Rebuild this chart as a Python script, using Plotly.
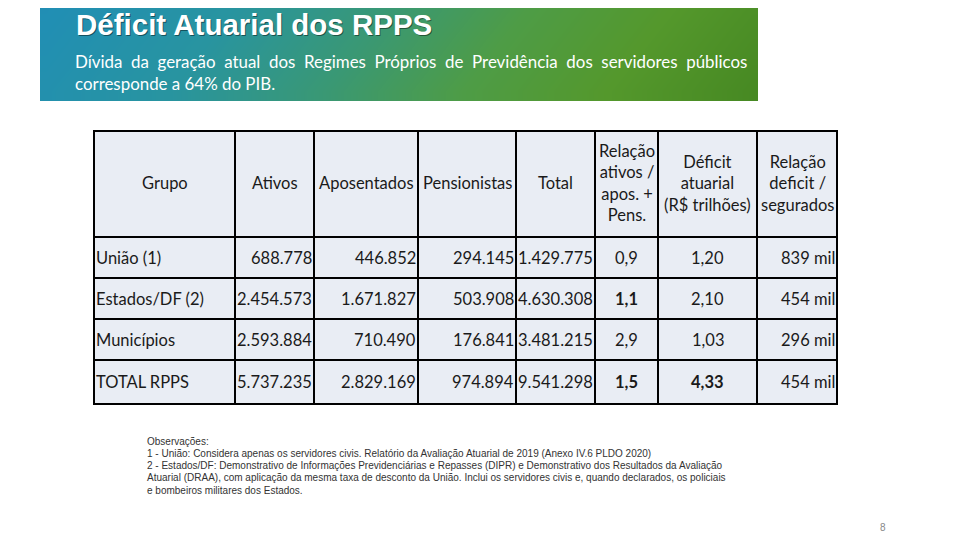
import numpy as np
import plotly.graph_objects as go

# ---------------- data ----------------
title = "Déficit Atuarial dos RPPS"
subtitle_lines = [
    "Dívida da geração atual dos Regimes Próprios de Previdência dos servidores públicos",
    "corresponde a 64% do PIB.",
]
headers = [
    "Grupo", "Ativos", "Aposentados", "Pensionistas", "Total",
    "Relação<br>ativos /<br>apos. +<br>Pens.",
    "Déficit<br>atuarial<br>(R$ trilhões)",
    "Relação<br>deficit /<br>segurados",
]
grupos = ["União (1)", "Estados/DF (2)", "Municípios", "TOTAL RPPS"]
ativos = ["688.778", "2.454.573", "2.593.884", "5.737.235"]
aposentados = ["446.852", "1.671.827", "710.490", "2.829.169"]
pensionistas = ["294.145", "503.908", "176.841", "974.894"]
total = ["1.429.775", "4.630.308", "3.481.215", "9.541.298"]
rel_ativos = ["0,9", "<b>1,1</b>", "2,9", "<b>1,5</b>"]
deficit = ["1,20", "2,10", "1,03", "<b>4,33</b>"]
rel_deficit = ["839 mil", "454 mil", "296 mil", "454 mil"]
notes = [
    "Observações:",
    "1 - União: Considera apenas os servidores civis. Relatório da Avaliação Atuarial de 2019 (Anexo IV.6 PLDO 2020)",
    "2 - Estados/DF: Demonstrativo de Informações Previdenciárias e Repasses (DIPR) e Demonstrativo dos Resultados da Avaliação",
    "Atuarial (DRAA), com aplicação da mesma taxa de desconto da União. Inclui os servidores civis e, quando declarados, os policiais",
    "e bombeiros militares dos Estados.",
]
page_number = "8"

columns = [grupos, ativos, aposentados, pensionistas, total, rel_ativos, deficit, rel_deficit]

# ---------------- layout geometry ----------------
OFF = 8  # page body margin compensation
col_edges = [94, 235, 314, 418, 516, 595, 658, 757, 837]
row_edges = [131, 237, 278, 319, 360, 404]
col_align = ["left", "right", "right", "right", "right", "center", "center", "right"]

fig = go.Figure()

# banner gradient
bx = np.linspace(40, 758, 61)
by = np.linspace(0, 101, 6)
cx = (bx[:-1] + bx[1:]) / 2
cy = (by[:-1] + by[1:]) / 2
tx = (cx - 40) / 718
ty = cy / 101
Z = np.clip(tx[None, :] * 0.9 + ty[:, None] * 0.1, 0, 1)
fig.add_trace(go.Heatmap(
    x=bx, y=by, z=Z, zmin=0, zmax=1, zsmooth="best", showscale=False, hoverinfo="skip",
    colorscale=[
        [0.0, "rgb(32,142,182)"],
        [0.25, "rgb(40,148,160)"],
        [0.45, "rgb(58,152,115)"],
        [0.62, "rgb(78,156,70)"],
        [0.8, "rgb(84,152,44)"],
        [1.0, "rgb(70,136,34)"],
    ],
))

shapes = []
shapes.append(dict(type="rect", x0=col_edges[0], x1=col_edges[-1], y0=row_edges[0], y1=row_edges[-1],
                   fillcolor="#E9EDF4", line=dict(width=0), layer="below"))
for x in col_edges:
    shapes.append(dict(type="line", x0=x, x1=x, y0=row_edges[0] - 1, y1=row_edges[-1] + 1,
                       line=dict(color="black", width=2)))
for y in row_edges:
    shapes.append(dict(type="line", x0=col_edges[0] - 1, x1=col_edges[-1] + 1, y0=y, y1=y,
                       line=dict(color="black", width=2)))

ann = []
ann.append(dict(x=74 + 1, y=24 + 1.5, text=f"<b>{title}</b>", showarrow=False, xanchor="left", yanchor="middle",
                font=dict(family="Liberation Sans", size=29.5, color="rgba(0,0,0,0.45)")))
ann.append(dict(x=74, y=24, text=f"<b>{title}</b>", showarrow=False, xanchor="left", yanchor="middle",
                font=dict(family="Liberation Sans", size=29.5, color="white")))
sub_texts = [subtitle_lines[0].replace(" ", " \u00a0"), subtitle_lines[1]]
for i, line in enumerate(sub_texts):
    ann.append(dict(x=73, y=61 + 22 * i, text=line, showarrow=False, xanchor="left", yanchor="middle",
                    font=dict(family="Lato", size=16.9, color="white")))

cell_font = dict(family="Lato", size=16.5, color="#1a1a1a")
for j, h in enumerate(headers):
    xc = (col_edges[j] + col_edges[j + 1]) / 2
    ann.append(dict(x=xc, y=(row_edges[0] + row_edges[1]) / 2 - 1, text=h, showarrow=False,
                    xanchor="center", yanchor="middle", align="center", font=cell_font))
for j, col in enumerate(columns):
    for i, val in enumerate(col):
        yc = (row_edges[i + 1] + row_edges[i + 2]) / 2
        a = col_align[j]
        if a == "left":
            x, xa = col_edges[j], "left"
        elif a == "right":
            x, xa = col_edges[j + 1], "right"
        else:
            x, xa = (col_edges[j] + col_edges[j + 1]) / 2, "center"
        ann.append(dict(x=x, y=yc, text=val, showarrow=False, xanchor=xa, yanchor="middle", font=cell_font))

for i, n in enumerate(notes):
    ann.append(dict(x=145, y=441 + 12.3 * i, text=n, showarrow=False, xanchor="left", yanchor="middle",
                    font=dict(family="Liberation Sans", size=10, color="#333333")))
ann.append(dict(x=883, y=527, text=page_number, showarrow=False, xanchor="center", yanchor="middle",
                font=dict(family="Liberation Sans", size=10, color="#888888")))

fig.update_layout(
    width=960, height=540, margin=dict(l=0, r=0, t=0, b=0),
    paper_bgcolor="white", plot_bgcolor="white",
    xaxis=dict(range=[OFF, 960 + OFF], visible=False, fixedrange=True),
    yaxis=dict(range=[540 + OFF, OFF], visible=False, fixedrange=True),
    shapes=shapes, annotations=ann, showlegend=False,
)
fig.write_html("out.html")
